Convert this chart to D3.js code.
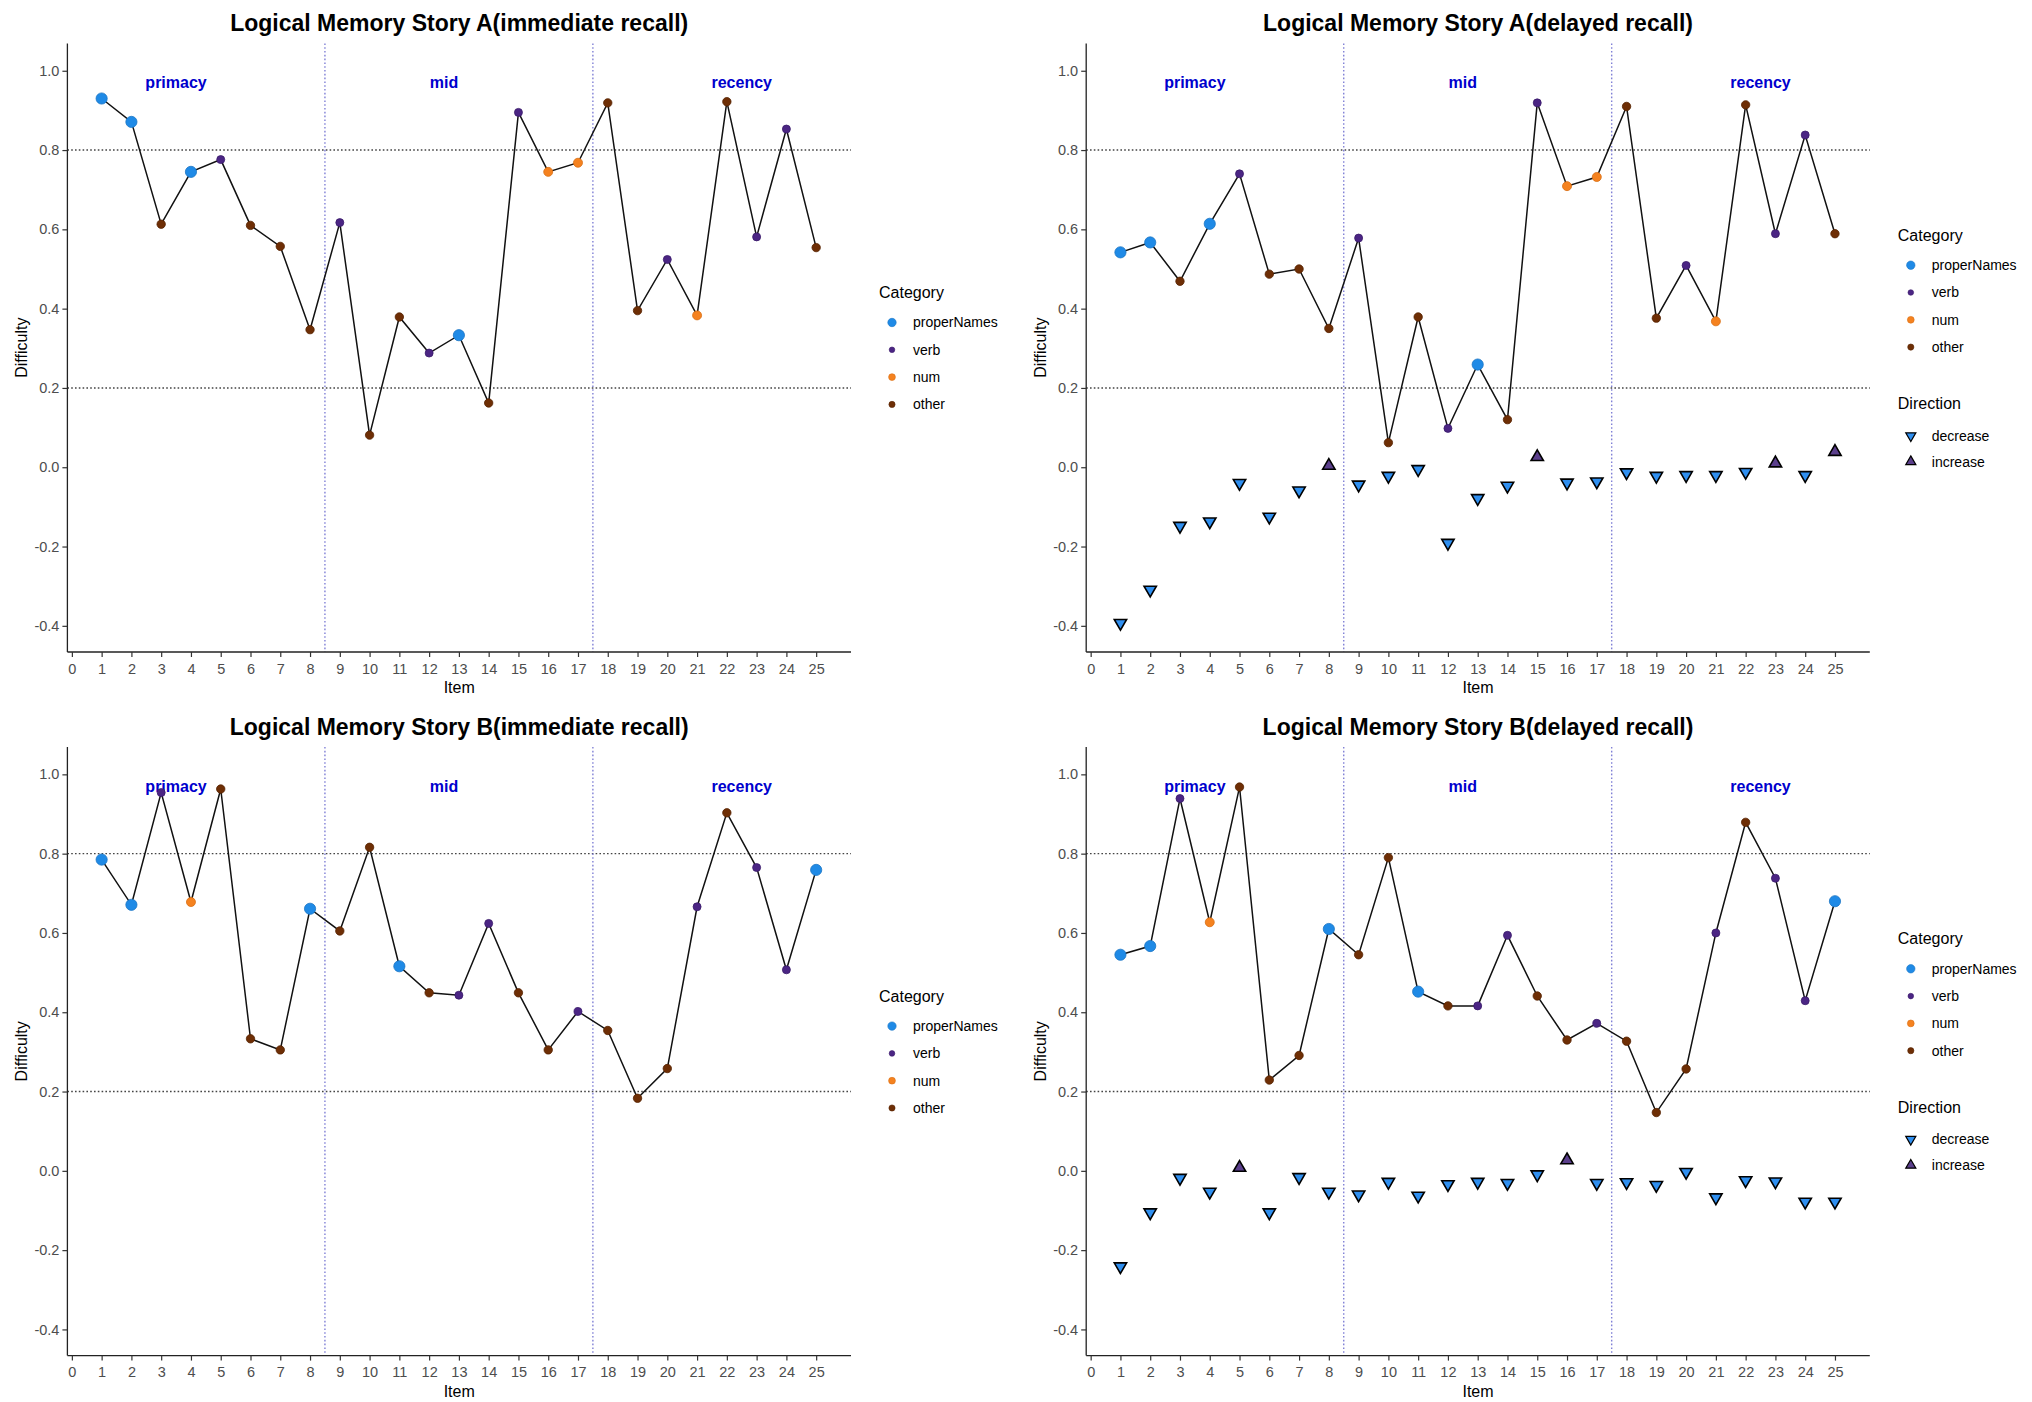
<!DOCTYPE html>
<html>
<head>
<meta charset="utf-8">
<script src="https://cdn.jsdelivr.net/npm/d3@7"></script>
<style>
  body { margin: 0; background: #fff; }
  text { font-family: "Liberation Sans", Arial, sans-serif; }
</style>
</head>
<body>
<div id="chart"></div>
<script>
// values
var items = [1,2,3,4,5,6,7,8,9,10,11,12,13,14,15,16,17,18,19,20,21,22,23,24,25];
var xTicks = [0,1,2,3,4,5,6,7,8,9,10,11,12,13,14,15,16,17,18,19,20,21,22,23,24,25];
var yTicks = [-0.4,-0.2,0,0.2,0.4,0.6,0.8,1.0];

var categories = ["properNames","verb","num","other"];
var directions = ["decrease","increase"];

var catA = ["properNames","properNames","other","properNames","verb","other","other","other","verb","other",
            "other","verb","properNames","other","verb","num","num","other","other","verb",
            "num","other","verb","verb","other"];
var catB = ["properNames","properNames","verb","num","other","other","other","properNames","other","other",
            "properNames","other","verb","verb","other","other","verb","other","other","other",
            "verb","other","verb","verb","properNames"];

var aImmediate = [0.930,0.871,0.613,0.745,0.776,0.610,0.557,0.347,0.617,0.081,
                  0.379,0.288,0.333,0.162,0.895,0.745,0.768,0.919,0.395,0.524,
                  0.383,0.922,0.581,0.853,0.554];
var aDelayed = [0.542,0.567,0.469,0.614,0.740,0.487,0.500,0.350,0.578,0.062,
                0.379,0.098,0.259,0.120,0.919,0.709,0.732,0.910,0.376,0.509,
                0.368,0.914,0.589,0.838,0.589];
var aChange = [-0.393,-0.309,-0.148,-0.137,-0.040,-0.125,-0.059,0.004,-0.044,-0.022,
               -0.005,-0.191,-0.078,-0.047,0.026,-0.039,-0.036,-0.013,-0.022,-0.020,
               -0.020,-0.012,0.010,-0.020,0.039];

var bImmediate = [0.785,0.671,0.954,0.678,0.963,0.333,0.305,0.661,0.605,0.816,
                  0.516,0.449,0.443,0.624,0.449,0.305,0.402,0.354,0.183,0.258,
                  0.666,0.903,0.765,0.507,0.759];
var bDelayed = [0.545,0.567,0.939,0.627,0.968,0.229,0.291,0.610,0.545,0.790,
                0.452,0.416,0.416,0.594,0.441,0.330,0.372,0.327,0.147,0.257,
                0.600,0.879,0.738,0.429,0.680];
var bChange = [-0.241,-0.105,-0.018,-0.053,0.008,-0.105,-0.016,-0.053,-0.060,-0.028,
               -0.063,-0.034,-0.028,-0.031,-0.009,0.027,-0.031,-0.029,-0.036,-0.003,
               -0.067,-0.024,-0.027,-0.078,-0.078];

var phases = ["primacy","mid","recency"];
var phaseX = [3.5,12.5,22.5];
var phaseY = 0.97;
var cutoffs = [8.5,17.5];
var refLines = [0.2,0.8];

var catColor = d3.scaleOrdinal().domain(categories).range(["#1f8ae6","#4b2584","#f5821f","#6e2e05"]);
var catStroke = d3.scaleOrdinal().domain(categories).range(["#1a75c4","#3a1a6a","#d86f14","#552200"]);
var catR = d3.scaleOrdinal().domain(categories).range([5.6,4.0,4.5,4.2]);
var catLegendR = d3.scaleOrdinal().domain(categories).range([4.2,2.8,3.4,3.1]);
var dirColor = d3.scaleOrdinal().domain(directions).range(["#2f8ff0","#5b3f8c"]);

var panels = [
  {title: "Logical Memory Story A(immediate recall)", values: aImmediate, cats: catA, change: null, col: 0, row: 0},
  {title: "Logical Memory Story A(delayed recall)", values: aDelayed, cats: catA, change: aChange, col: 1, row: 0},
  {title: "Logical Memory Story B(immediate recall)", values: bImmediate, cats: catB, change: null, col: 0, row: 1},
  {title: "Logical Memory Story B(delayed recall)", values: bDelayed, cats: catB, change: bChange, col: 1, row: 1}
];

var W = 2032, H = 1402;
var colLeft = [67.4, 1086.2], plotW = 783.6;
var rowTop = [43.4, 747], plotH = 608.6;

var svg = d3.select("#chart").append("svg")
    .attr("width", W)
    .attr("height", H);
svg.append("rect").attr("width", W).attr("height", H).attr("fill", "#fff");

var tri = d3.symbol().type(d3.symbolTriangle).size(66);

panels.forEach(function(p) {
  var left = colLeft[p.col], top = rowTop[p.row];
  var g = svg.append("g").attr("transform", "translate(" + left + "," + top + ")");

  var x = d3.scaleLinear().domain([-0.15, 26.17]).range([0, plotW]);
  var y = d3.scaleLinear().domain([-0.466, 1.069]).range([plotH, 0]);

  // reference lines
  g.selectAll(".href").data(refLines).enter().append("line")
      .attr("x1", 0).attr("x2", plotW)
      .attr("y1", function(d) { return y(d); }).attr("y2", function(d) { return y(d); })
      .attr("stroke", "#444").attr("stroke-width", 1.4).attr("stroke-dasharray", "1.6,2.2");
  g.selectAll(".vref").data(cutoffs).enter().append("line")
      .attr("x1", function(d) { return x(d); }).attr("x2", function(d) { return x(d); })
      .attr("y1", 0).attr("y2", plotH)
      .attr("stroke", "#8080d6").attr("stroke-width", 1.4).attr("stroke-dasharray", "1.6,2.2");

  // phase labels
  g.selectAll(".phase").data(phases).enter().append("text")
      .attr("x", function(d, i) { return x(phaseX[i]); })
      .attr("y", y(phaseY))
      .attr("dy", "0.35em")
      .attr("text-anchor", "middle")
      .attr("font-size", 16).attr("font-weight", "bold")
      .attr("fill", "#0000cd")
      .text(function(d) { return d; });

  // axes
  var ax = g.append("g").attr("transform", "translate(0," + plotH + ")")
      .call(d3.axisBottom(x).tickValues(xTicks).tickSize(5).tickSizeOuter(0).tickFormat(d3.format("d")));
  var ay = g.append("g")
      .call(d3.axisLeft(y).tickValues(yTicks).tickSize(5).tickSizeOuter(0).tickFormat(function(d) { return d.toFixed(1); }));
  [ax, ay].forEach(function(a) {
    a.select(".domain").attr("stroke", "#222").attr("stroke-width", 1.3);
    a.selectAll(".tick line").attr("stroke", "#333").attr("stroke-width", 1.2);
    a.selectAll(".tick text").attr("fill", "#4d4d4d").attr("font-size", 14.5)
      .attr("font-family", "Liberation Sans, Arial, sans-serif");
  });
  ax.selectAll(".tick text").attr("dy", "0.95em");
  ay.selectAll(".tick text").attr("x", -8);
  // axis lines across the full panel
  ax.select(".domain").attr("d", "M0,0H" + plotW);
  ay.select(".domain").attr("d", "M0," + plotH + "V0");

  // axis titles
  g.append("text")
      .attr("transform", "translate(-46," + (plotH / 2) + ")rotate(-90)")
      .attr("text-anchor", "middle").attr("dy", "0.35em")
      .attr("font-size", 16).attr("fill", "#000")
      .text("Difficulty");
  g.append("text")
      .attr("x", plotW / 2).attr("y", plotH + 41)
      .attr("text-anchor", "middle")
      .attr("font-size", 16).attr("fill", "#000")
      .text("Item");

  // title
  g.append("text")
      .attr("x", plotW / 2).attr("y", -12)
      .attr("text-anchor", "middle")
      .attr("font-size", 23).attr("font-weight", "bold").attr("fill", "#000")
      .text(p.title);

  // line + points
  var line = d3.line()
      .x(function(d, i) { return x(items[i]); })
      .y(function(d) { return y(d); });
  g.append("path").datum(p.values)
      .attr("d", line)
      .attr("fill", "none").attr("stroke", "#111").attr("stroke-width", 1.5);

  g.selectAll(".pt").data(p.values).enter().append("circle")
      .attr("cx", function(d, i) { return x(items[i]); })
      .attr("cy", function(d) { return y(d); })
      .attr("r", function(d, i) { return catR(p.cats[i]); })
      .attr("fill", function(d, i) { return catColor(p.cats[i]); })
      .attr("stroke", function(d, i) { return catStroke(p.cats[i]); })
      .attr("stroke-width", 0.8);

  if (p.change) {
    g.selectAll(".chg").data(p.change).enter().append("path")
        .attr("d", tri)
        .attr("transform", function(d, i) {
          var dir = d < 0 ? 180 : 0;
          return "translate(" + x(items[i]) + "," + y(d) + ")rotate(" + dir + ")";
        })
        .attr("fill", function(d) { return dirColor(d < 0 ? "decrease" : "increase"); })
        .attr("stroke", "#000").attr("stroke-width", 1.6).attr("stroke-linejoin", "miter");
  }

  // legends
  var lg = g.append("g").attr("transform", "translate(" + (plotW + 28) + ",0)");
  var T = p.change ? 197.3 : 254.6;
  lg.append("text").attr("x", 0).attr("y", T)
      .attr("font-size", 16).attr("fill", "#000").text("Category");
  var ci = lg.selectAll(".ci").data(categories).enter().append("g")
      .attr("transform", function(d, i) { return "translate(0," + (T + 24.5 + i * 27.3) + ")"; });
  ci.append("circle").attr("cx", 13).attr("cy", 0)
      .attr("r", function(d) { return catLegendR(d); })
      .attr("fill", function(d) { return catColor(d); })
      .attr("stroke", function(d) { return catStroke(d); }).attr("stroke-width", 0.6);
  ci.append("text").attr("x", 34).attr("y", 0).attr("dy", "0.35em")
      .attr("font-size", 14).attr("fill", "#000")
      .text(function(d) { return d; });

  if (p.change) {
    var D = T + 168.6;
    lg.append("text").attr("x", 0).attr("y", D)
        .attr("font-size", 16).attr("fill", "#000").text("Direction");
    var di = lg.selectAll(".di").data(directions).enter().append("g")
        .attr("transform", function(d, i) { return "translate(13," + (D + 26.4 + i * 26) + ")"; });
    di.append("path")
        .attr("d", d3.symbol().type(d3.symbolTriangle).size(44))
        .attr("transform", function(d) { return d === "decrease" ? "rotate(180)" : ""; })
        .attr("fill", function(d) { return dirColor(d); })
        .attr("stroke", "#000").attr("stroke-width", 1.2);
    di.append("text").attr("x", 21).attr("y", 0).attr("dy", "0.35em")
        .attr("font-size", 14).attr("fill", "#000")
        .text(function(d) { return d; });
  }
});
</script>
</body>
</html>
